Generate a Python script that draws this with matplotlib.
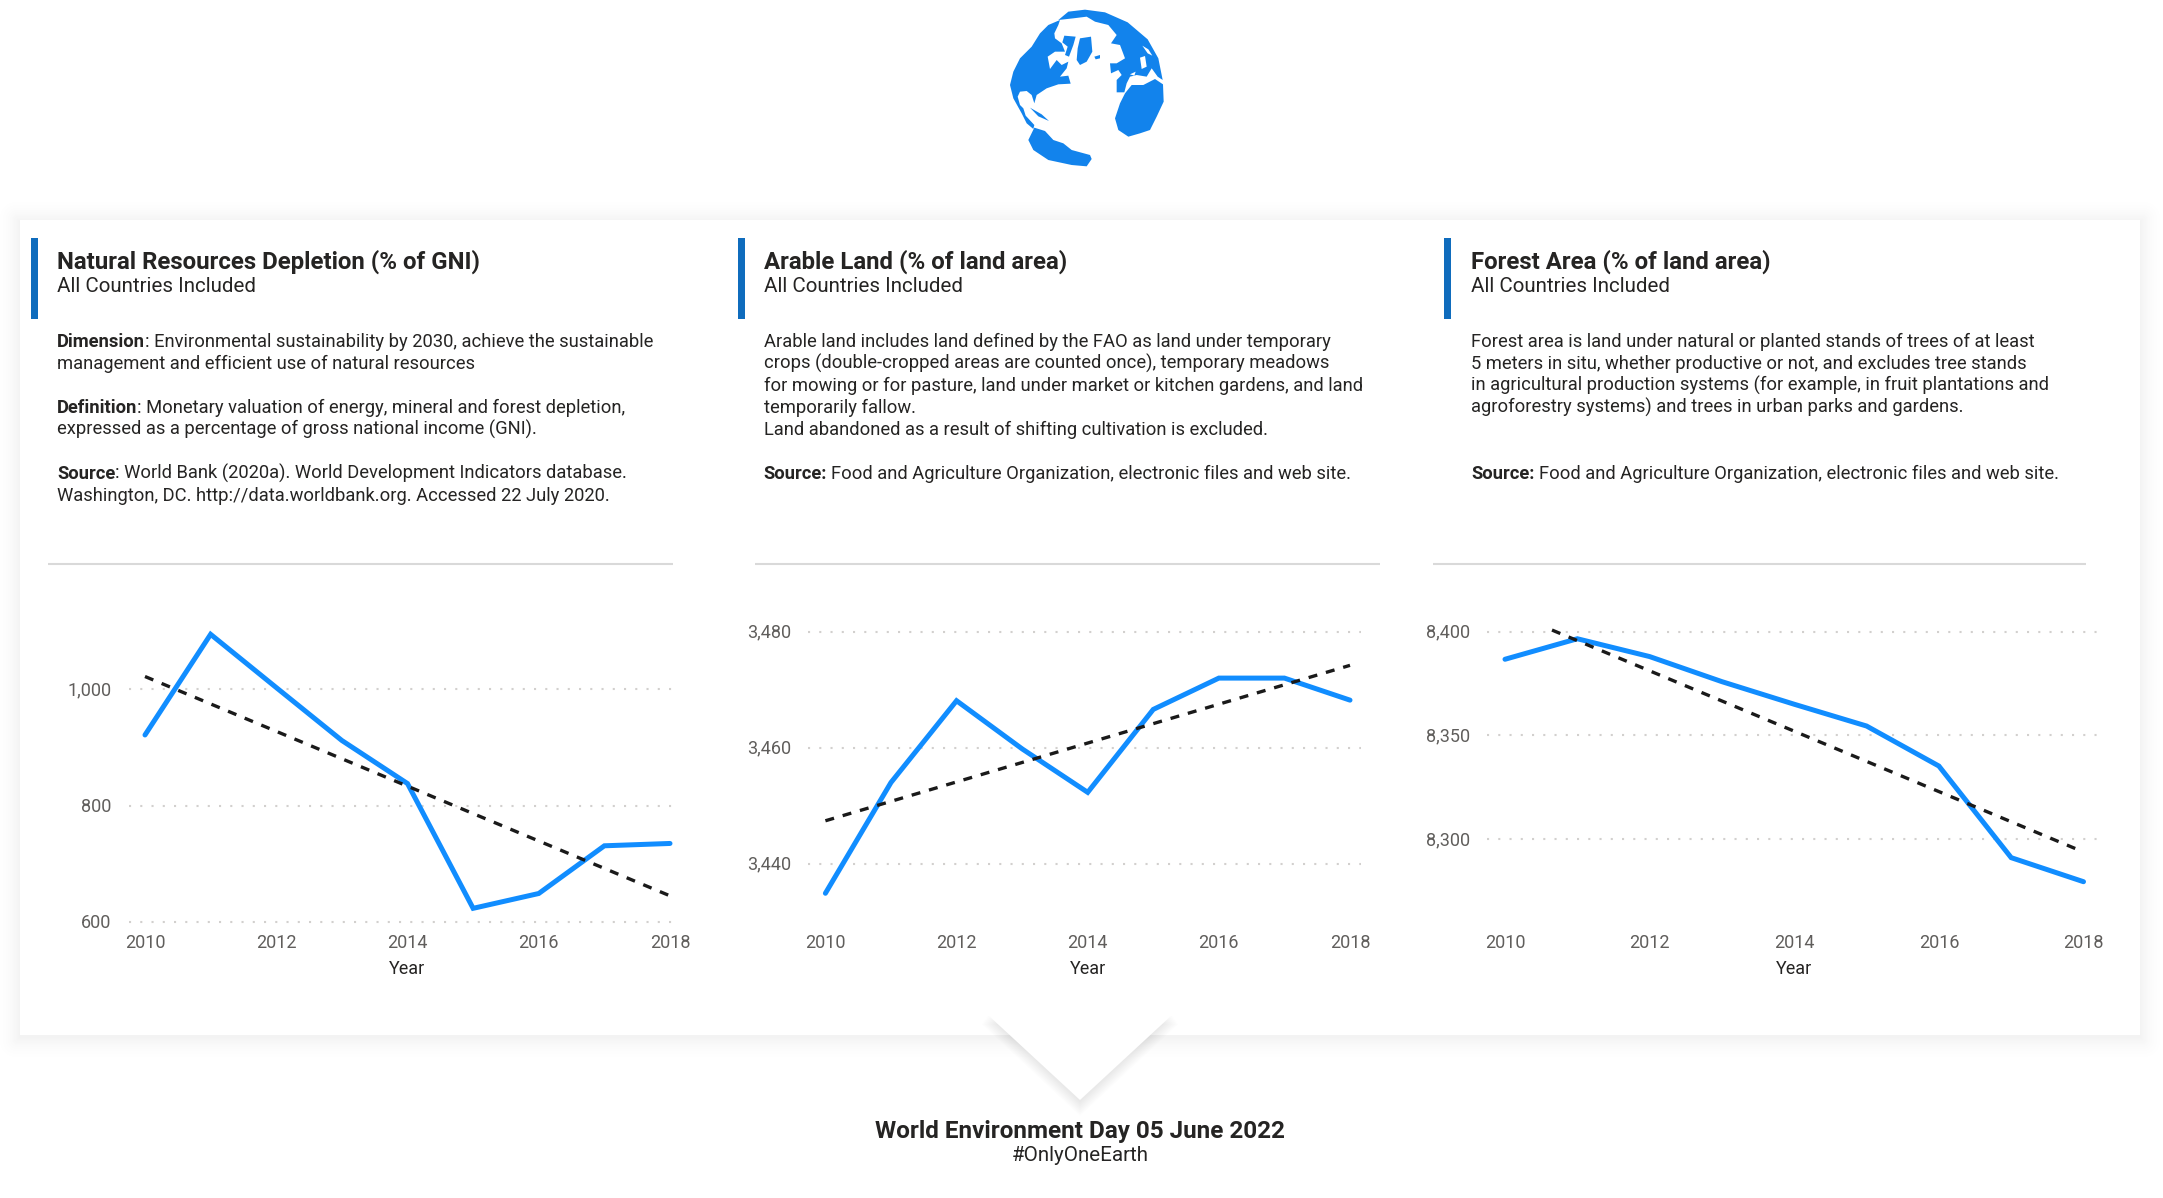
import matplotlib
matplotlib.use("Agg")
import matplotlib.pyplot as plt
import matplotlib.ticker
from matplotlib.patches import Polygon, Rectangle, Circle, FancyBboxPatch
from matplotlib.transforms import ScaledTranslation

W, H = 2163, 1198
plt.rcParams['font.family'] = ['Roboto', 'DejaVu Sans']

# ---------- data ----------
YEARS = [2010, 2011, 2012, 2013, 2014, 2015, 2016, 2017, 2018]
XTICKS = [2010, 2012, 2014, 2016, 2018]

DEPLETION = [921.5, 1094.5, 1003, 912, 838, 623.5, 649, 731, 735]
DEPLETION_TREND_X = [2010, 2018]
DEPLETION_TREND = [1022, 645]
DEPLETION_TICKS = [600, 800, 1000]

ARABLE = [3434.9, 3454, 3468.1, 3459.8, 3452.3, 3466.6, 3472, 3472, 3468.2]
ARABLE_TREND_X = [2010, 2018]
ARABLE_TREND = [3447.4, 3474.2]
ARABLE_TICKS = [3440, 3460, 3480]

FOREST = [8386.7, 8396.6, 8388, 8375.9, 8365, 8354.5, 8335.2, 8291, 8279.4]
FOREST_TREND_X = [2010.65, 2017.9]
FOREST_TREND = [8400.8, 8295.2]
FOREST_TICKS = [8300, 8350, 8400]

TITLES = ["Natural Resources Depletion (% of GNI)", "Arable Land (% of land area)", "Forest Area (% of land area)"]
SUBTITLE = "All Countries Included"

TEXT_1 = [
    (346, "Dimension", ": Environmental sustainability by 2030, achieve the sustainable"),
    (368, "", "management and efficient use of natural resources"),
    (412, "Definition", ": Monetary valuation of energy, mineral and forest depletion,"),
    (434, "", "expressed as a percentage of gross national income (GNI)."),
    (478, "Source", ": World Bank (2020a). World Development Indicators database."),
    (500, "", "Washington, DC. http://data.worldbank.org. Accessed 22 July 2020."),
]
TEXT_2 = [
    (346, "", "Arable land includes land defined by the FAO as land under temporary"),
    (368, "", "crops (double-cropped areas are counted once), temporary meadows"),
    (390, "", "for mowing or for pasture, land under market or kitchen gardens, and land"),
    (412, "", "temporarily fallow."),
    (434, "", "Land abandoned as a result of shifting cultivation is excluded."),
    (478, "Source:", " Food and Agriculture Organization, electronic files and web site."),
]
TEXT_3 = [
    (346, "", "Forest area is land under natural or planted stands of trees of at least"),
    (368, "", "5 meters in situ, whether productive or not, and excludes tree stands"),
    (390, "", "in agricultural production systems (for example, in fruit plantations and"),
    (412, "", "agroforestry systems) and trees in urban parks and gardens."),
    (478, "Source:", " Food and Agriculture Organization, electronic files and web site."),
]
FOOT_TITLE = "World Environment Day 05 June 2022"
FOOT_SUB = "#OnlyOneEarth"

# ---------- styles ----------
LINE_C = '#118DFF'
BAR_C = '#0F6CBD'
GLOBE_C = '#1283EC'
INK = '#252423'
TICK_C = '#605E5C'
GRID_C = '#D2D0CE'

fig = plt.figure(figsize=(W / 100, H / 100), dpi=100, facecolor='white')
bg = fig.add_axes([0, 0, 1, 1], zorder=0)
bg.set_xlim(0, W)
bg.set_ylim(H, 0)
bg.axis('off')

# panel + soft shadow
PX0, PY0, PX1, PY1 = 20, 220, 2140, 1035
N = 26
for d in range(N, 0, -1):
    g = 1 - 0.05 * (1 - d / N) ** 2
    bg.add_patch(FancyBboxPatch((PX0 - d, PY0 - d + 2), PX1 - PX0 + 2 * d, PY1 - PY0 + 2 * d,
                                boxstyle=f"round,pad=0,rounding_size={d}", fc=(g, g, g), ec='none', zorder=1))
bg.add_patch(Rectangle((PX0, PY0), PX1 - PX0, PY1 - PY0, fc='white', ec='none', zorder=2))

# pointer notch
TX0, TX1, TXM, TY0, TY1 = 988, 1172, 1080, 1015, 1100
SLOPE = (TXM - TX0) / (TY1 - TY0)
for d in range(11, 0, -1):
    ytop = TY0 + d * 0.8
    off = d * 1.47 - (ytop - TY0) * SLOPE
    bg.add_patch(Polygon([(TX0 - off, ytop), (TX1 + off, ytop), (TXM, TY1 + d * 1.47 / SLOPE + 1)],
                         fc='black', alpha=0.0065, ec='none', zorder=3))
bg.add_patch(Polygon([(TX0, TY0), (TX1, TY0), (TXM, TY1)], fc='white', ec='none', zorder=4))

# globe (decorative), outlines traced in 3x crop coordinates
def gx(pts):
    return [(x / 3 + 1005, y / 3 + 5) for x, y in pts]

GLOBE_LAND = [
    [(165, 45), (130, 60), (105, 85), (80, 125), (45, 160), (25, 200), (15, 240), (25, 280), (50, 325), (65, 355), (85, 372),
     (88, 360), (62, 332), (55, 310), (45, 300), (38, 275), (45, 260), (65, 258), (80, 270), (88, 295), (95, 270), (125, 250),
     (160, 238), (197, 236), (190, 212), (165, 215), (185, 190), (190, 170), (170, 180), (155, 165), (135, 192), (128, 155),
     (150, 140), (180, 140), (170, 115), (150, 100), (148, 85), (160, 60)],
    [(178, 92), (212, 95), (205, 120), (192, 155), (180, 150), (188, 125), (172, 112)],
    [(225, 100), (258, 95), (262, 140), (245, 170), (225, 180), (215, 165), (218, 130)],
    [(268, 155), (285, 150), (285, 160), (272, 163)],
    [(160, 45), (190, 20), (240, 14), (300, 22), (368, 52), (428, 103), (460, 160), (473, 225), (458, 215), (440, 190),
     (425, 215), (395, 210), (375, 215), (365, 235), (358, 262), (335, 262), (335, 225), (350, 210), (340, 195), (318, 205),
     (315, 175), (335, 175), (360, 160), (345, 120), (318, 115), (335, 90), (310, 60), (270, 50), (245, 35), (205, 40)],
    [(360, 265), (380, 240), (415, 240), (450, 222), (474, 238), (476, 290), (455, 335), (435, 375), (405, 385), (370, 395),
     (340, 375), (330, 340), (345, 295)],
    [(88, 368), (120, 378), (145, 405), (175, 415), (200, 435), (255, 450), (260, 462), (245, 484), (200, 480), (130, 465),
     (85, 435), (70, 405)],
    [(75, 308), (110, 328), (132, 348), (100, 334)],
]
GLOBE_WATER = [
    [(412, 122), (430, 133), (442, 152), (428, 145)],
    [(405, 158), (420, 153), (425, 185), (410, 192)],
    [(456, 217), (472, 226), (470, 232), (455, 222)],
    [(375, 208), (392, 200), (388, 212)],
]
for poly in GLOBE_LAND:
    bg.add_patch(Polygon(gx(poly), fc=GLOBE_C, ec='none', zorder=2))
for poly in GLOBE_WATER:
    bg.add_patch(Polygon(gx(poly), fc='white', ec='none', zorder=2.5))

# headers
BAR_X = [31, 738, 1444]
TEXT_X = [57, 763.5, 1471]
SEP = [(48, 672.5), (754.5, 1379.5), (1433, 2086)]
renderer = fig.canvas.get_renderer()
BODY_SIZE = 13.2

def rich(x, y, bold, rest):
    y += 0.7
    if bold:
        t = bg.text(x, y, bold, fontsize=BODY_SIZE, fontweight='bold', color=INK, va='baseline', ha='left', zorder=6)
        x = t.get_window_extent(renderer).x1
        if rest.startswith(' '):
            x += 4.5
            rest = rest[1:]
    bg.text(x, y, rest, fontsize=BODY_SIZE, color=INK, va='baseline', ha='left', zorder=6)

for i, body in enumerate([TEXT_1, TEXT_2, TEXT_3]):
    bg.add_patch(Rectangle((BAR_X[i], 238), 7, 81, fc=BAR_C, ec='none', zorder=5))
    bg.text(TEXT_X[i], 269, TITLES[i], fontsize=17.25, fontweight='bold', color=INK, va='baseline', zorder=6)
    bg.text(TEXT_X[i], 292.5, SUBTITLE, fontsize=14.8, color=INK, va='baseline', zorder=6)
    for y, b, r in body:
        rich(TEXT_X[i], y, b, r)
    bg.plot(SEP[i], [564, 564], color='#D9D9D9', lw=1.5, zorder=5, solid_capstyle='butt')

# footer
bg.text(1080, 1138, FOOT_TITLE, fontsize=17.5, fontweight='bold', color=INK, ha='center', va='baseline', zorder=6)
bg.text(1080, 1161, FOOT_SUB, fontsize=14.8, color=INK, ha='center', va='baseline', zorder=6)

# charts
def chart(left, right, x2010, x2018, cal, values, tx, ty, ticks):
    top, bottom = 600, 922
    (v1, p1), (v2, p2) = cal
    k = (v2 - v1) / (p2 - p1)
    ylim = (v1 + (bottom - p1) * k, v1 + (top - p1) * k)
    kx = 8 / (x2018 - x2010)
    xlim = (2010 + (left - x2010) * kx, 2010 + (right - x2010) * kx)
    ax = fig.add_axes([left / W, 1 - bottom / H, (right - left) / W, (bottom - top) / H], zorder=7)
    ax.patch.set_alpha(0)
    ax.set_xlim(xlim)
    ax.set_ylim(ylim)
    for s in ax.spines.values():
        s.set_visible(False)
    ax.set_xticks(XTICKS)
    ax.set_yticks(ticks)
    ax.yaxis.set_major_formatter(matplotlib.ticker.StrMethodFormatter('{x:,.0f}'))
    ax.tick_params(length=0, labelsize=13, labelcolor=TICK_C)
    ax.tick_params(axis='y', pad=12.2)
    ax.tick_params(axis='x', pad=8.8)
    for lbl in ax.get_yticklabels():
        lbl.set_transform(lbl.get_transform() + ScaledTranslation(0, 1 / 100, fig.dpi_scale_trans))
    ax.xaxis.grid(False)
    ax.yaxis.grid(True, color=GRID_C, lw=1.5, linestyle=(0, (1, 4.4)), clip_on=False)
    ax.set_axisbelow(True)
    ax.plot(YEARS, values, color=LINE_C, lw=3.6, solid_joinstyle='miter', solid_capstyle='round', zorder=3, clip_on=False)
    ax.plot(tx, ty, color='#1A1A1A', lw=2.4, linestyle=(0, (2.7, 2.7)), dash_capstyle='butt', zorder=4, clip_on=False)
    ax.set_xlabel('Year', fontsize=13, color=INK, labelpad=5.4, x=(2014 - xlim[0]) / (xlim[1] - xlim[0]))
    return ax

chart(128.5, 680, 145, 670, ((1000, 689.3), (600, 922)), DEPLETION, DEPLETION_TREND_X, DEPLETION_TREND, DEPLETION_TICKS)
chart(808, 1361, 825.4, 1350, ((3480, 631.7), (3440, 863.7)), ARABLE, ARABLE_TREND_X, ARABLE_TREND, ARABLE_TICKS)
chart(1486.6, 2100, 1505, 2083.5, ((8400, 631.7), (8300, 839)), FOREST, FOREST_TREND_X, FOREST_TREND, FOREST_TICKS)

fig.savefig('out.png', dpi=100, facecolor='white')
